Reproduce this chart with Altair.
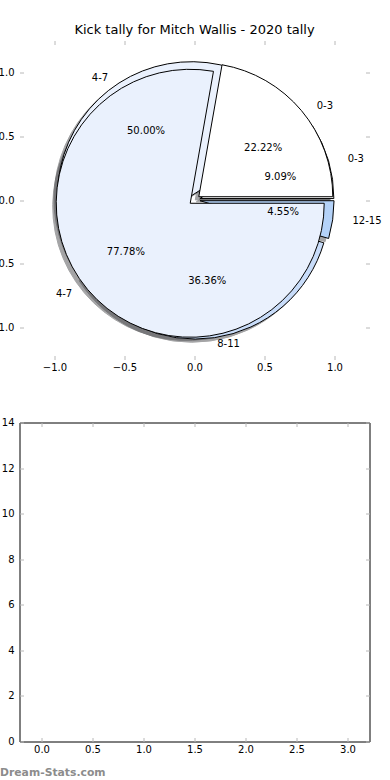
import altair as alt
import pandas as pd

TITLE = "Kick tally for Mitch Wallis - 2020 tally"
WATERMARK = "Dream-Stats.com"

# kick ranges and their colours
range_labels = ["0-3", "4-7", "8-11", "12-15"]
range_colors = ["#ffffff", "#eaf1fd", "#c8dcf9", "#b4d2f8"]

# pie drawn first (four ranges)
pie1_ranges = ["0-3", "4-7", "8-11", "12-15"]
pie1_kicks = [2, 11, 8, 1]
# pie drawn on top (two ranges)
pie2_ranges = ["0-3", "4-7"]
pie2_kicks = [2, 7]

# tick labels
pie_ticks = [-1.0, -0.5, 0.0, 0.5, 1.0]
count_ticks = [0, 2, 4, 6, 8, 10, 12, 14]
pos_ticks = [0.0, 0.5, 1.0, 1.5, 2.0, 2.5, 3.0]

rows = []
for i, (r, k) in enumerate(zip(pie1_ranges, pie1_kicks)):
    rows.append({"pie": "first", "order": i, "range": r, "kicks": k})
for i, (r, k) in enumerate(zip(pie2_ranges, pie2_kicks)):
    rows.append({"pie": "second", "order": i, "range": r, "kicks": k})
pie_df = pd.DataFrame(rows)

empty_df = pd.DataFrame({"position": pd.Series([], dtype=float),
                         "kicks": pd.Series([], dtype=float)})

# style constants
EXPLODE = 0.04
SHADOW = 0.025
PCT_DIST = 0.6
LABEL_DIST = 1.1
R_PX = 134
W, H = 350, 319
FONT = "DejaVu Sans"
TICK_COLOR = "#b8b8b8"


def ax(orient, values, fmt=None, labels=True, **extra):
    args = dict(orient=orient, values=values, domain=False, grid=False,
                ticks=True, tickSize=4, tickWidth=1, tickColor=TICK_COLOR,
                offset=-4, labels=labels, labelFont=FONT, labelFontSize=10,
                labelColor="black", labelFlush=False, labelOverlap=False,
                labelPadding=5.5 if orient in ("left", "right") else 2.5,
                title=None)
    if fmt:
        args["format"] = fmt
    args.update(extra)
    return alt.Axis(**args)


xs_top = alt.Scale(domain=[-1.25, 1.25], nice=False, zero=False)
ys_top = alt.Scale(domain=[-1.25, 1.25], nice=False, zero=False)


def XT(field):
    return alt.X(f"{field}:Q", scale=xs_top, axis=ax("bottom", pie_ticks, ".1f"))


def YT(field):
    return alt.Y(f"{field}:Q", scale=ys_top, axis=ax("left", pie_ticks, ".1f"))


base = (
    alt.Chart(pie_df)
    .transform_joinaggregate(total="sum(kicks)", groupby=["pie"])
    .transform_window(cum="sum(kicks)", groupby=["pie"],
                      sort=[alt.SortField("order", order="ascending")],
                      frame=[None, 0])
    .transform_calculate(a1="2*PI*(datum.cum - datum.kicks)/datum.total")
    .transform_calculate(a2="2*PI*datum.cum/datum.total")
    .transform_calculate(mid="(datum.a1 + datum.a2)/2")
    .transform_calculate(ts="2.5*PI - datum.a2")
    .transform_calculate(te="2.5*PI - datum.a1")
    .transform_calculate(pct="format(100*datum.kicks/datum.total, '.2f') + '%'")
    .transform_calculate(cx=f"{EXPLODE}*cos(datum.mid)")
    .transform_calculate(cy=f"{EXPLODE}*sin(datum.mid)")
    .transform_calculate(sx=f"datum.cx - {SHADOW}")
    .transform_calculate(sy=f"datum.cy - {SHADOW}")
    .transform_calculate(px=f"datum.cx + {PCT_DIST}*cos(datum.mid)")
    .transform_calculate(py=f"datum.cy + {PCT_DIST}*sin(datum.mid)")
    .transform_calculate(lx=f"datum.cx + {LABEL_DIST}*cos(datum.mid)")
    .transform_calculate(ly=f"datum.cy + {LABEL_DIST}*sin(datum.mid)")
)

theta = alt.Theta("ts:Q", scale=None, stack=False)
theta2 = alt.Theta2("te:Q")
color = alt.Color("range:N", scale=alt.Scale(domain=range_labels, range=range_colors),
                  legend=None)

shadow = base.mark_arc(radius=R_PX, fill="#4b4c4f", stroke="#4b4c4f",
                       strokeWidth=1, opacity=0.5).encode(
    x=XT("sx"), y=YT("sy"), theta=theta, theta2=theta2)

wedges1 = base.transform_filter("datum.pie == 'first'").mark_arc(
    radius=R_PX, stroke="black", strokeWidth=1).encode(
    x=XT("cx"), y=YT("cy"), theta=theta, theta2=theta2, color=color)

wedges2 = base.transform_filter("datum.pie == 'second'").mark_arc(
    radius=R_PX, stroke="black", strokeWidth=1).encode(
    x=XT("cx"), y=YT("cy"), theta=theta, theta2=theta2, color=color)

pct = base.mark_text(font=FONT, fontSize=10, color="black", align="center",
                     baseline="middle").encode(
    x=XT("px"), y=YT("py"), text="pct:N")

lab_left = base.transform_filter("datum.lx > 0").mark_text(
    font=FONT, fontSize=10, color="black", align="left", baseline="middle").encode(
    x=XT("lx"), y=YT("ly"), text="range:N")

lab_right = base.transform_filter("datum.lx <= 0").mark_text(
    font=FONT, fontSize=10, color="black", align="right", baseline="middle").encode(
    x=XT("lx"), y=YT("ly"), text="range:N")

mirror_top = base.mark_point(opacity=0).encode(
    x=alt.X("cx:Q", scale=xs_top, axis=ax("top", pie_ticks, labels=False)),
    y=alt.Y("cy:Q", scale=ys_top, axis=ax("right", pie_ticks, labels=False)))

top = alt.layer(
    alt.layer(shadow, wedges1, wedges2, pct, lab_left, lab_right),
    mirror_top,
).resolve_scale(x="independent", y="independent").properties(
    width=W, height=H,
    title=alt.TitleParams(TITLE, fontSize=13, font=FONT, fontWeight="normal",
                          offset=-7, baseline="alphabetic", color="black",
                          anchor="middle"),
)

xs_bot = alt.Scale(domain=[-0.216, 3.216], nice=False, zero=False, padding=0)
ys_bot = alt.Scale(domain=[0, 14], nice=False, zero=False, padding=0)

bottom_main = alt.Chart(empty_df).mark_bar().encode(
    x=alt.X("position:Q", scale=xs_bot,
            axis=ax("bottom", pos_ticks, ".1f", title=WATERMARK,
                    titleAnchor="start", titleAlign="left", titleX=-20,
                    titleY=38, titleBaseline="alphabetic", titleFont=FONT,
                    titleFontSize=10.8, titleFontWeight="bold",
                    titleColor="#8c8c8c")),
    y=alt.Y("kicks:Q", scale=ys_bot, axis=ax("left", count_ticks, "d")),
)
bottom_mirror = alt.Chart(empty_df).mark_bar().encode(
    x=alt.X("position:Q", scale=xs_bot, axis=ax("top", pos_ticks, labels=False)),
    y=alt.Y("kicks:Q", scale=ys_bot, axis=ax("right", count_ticks, labels=False)),
)
bottom = alt.layer(bottom_main, bottom_mirror).resolve_scale(
    x="independent", y="independent").properties(
    width=W, height=H,
    view=alt.ViewBackground(stroke="black", strokeWidth=1))

chart = alt.vconcat(
    top, bottom, spacing=63, bounds="flush",
    padding={"left": -10.5, "top": 23.5, "right": 0, "bottom": 0},
).configure(font=FONT).configure_view(stroke=None)

chart.save("out.html", embed_options={"renderer": "svg", "actions": False})
